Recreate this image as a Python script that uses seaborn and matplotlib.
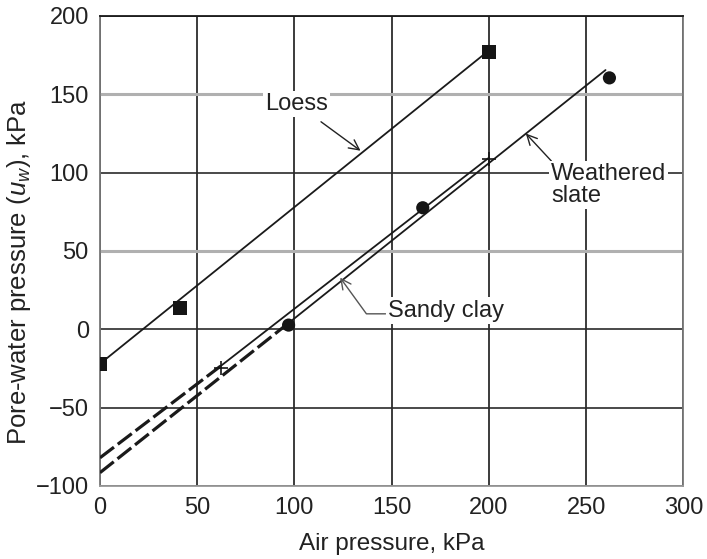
import pandas as pd
import numpy as np
import matplotlib.pyplot as plt
import seaborn as sns

sns.set_style('white')
plt.rcParams['font.family'] = ['Liberation Sans', 'DejaVu Sans']
plt.rcParams['mathtext.fontset'] = 'custom'
plt.rcParams['mathtext.rm'] = 'Liberation Sans'
plt.rcParams['mathtext.it'] = 'Liberation Sans:italic'

# measured points
loess_x = [0, 41, 200]
loess_y = [-22, 13.5, 177]
sandy_x = [62, 200]
sandy_y = [-24.5, 108.5]
slate_x = [97, 166, 262]
slate_y = [2.7, 77.6, 160.5]

# fitted lines (solid part + dashed extrapolation)
loess_fit_x = [0, 200]
loess_fit_y = [-22, 178]
sandy_fit_x = [62, 200]
sandy_fit_y = [-23.5, 109.5]
sandy_ext_x = [0, 62]
sandy_ext_y = [-82, -23.5]
slate_fit_x = [97, 260]
slate_fit_y = [4, 165.5]
slate_ext_x = [0, 97]
slate_ext_y = [-91.5, 4]

x_ticks = [0, 50, 100, 150, 200, 250, 300]
y_ticks = [-100, -50, 0, 50, 100, 150, 200]

fig = plt.figure(figsize=(7.07, 5.59), dpi=100)
ax = fig.add_axes([0.1414, 0.1306, 0.8251, 0.8408])

# lines
for xs, ys in [(loess_fit_x, loess_fit_y), (sandy_fit_x, sandy_fit_y), (slate_fit_x, slate_fit_y)]:
    sns.lineplot(x=xs, y=ys, ax=ax, color='#1a1a1a', lw=1.3, zorder=4)
for xs, ys in [(sandy_ext_x, sandy_ext_y), (slate_ext_x, slate_ext_y)]:
    sns.lineplot(x=xs, y=ys, ax=ax, color='#1a1a1a', lw=2.3, zorder=4,
                 dashes=False).lines[-1].set_dashes((5.5, 1.5))

# markers
sns.scatterplot(x=loess_x, y=loess_y, ax=ax, marker='s', s=105, color='#151515',
                edgecolor='none', zorder=5)
sns.scatterplot(x=slate_x, y=slate_y, ax=ax, marker='o', s=90, color='#151515',
                edgecolor='none', zorder=5)
sns.scatterplot(x=sandy_x, y=sandy_y, ax=ax, marker='+', s=90, color='#151515',
                linewidth=1.2, zorder=6)

ax.set_xlim(0, 300)
ax.set_ylim(-100, 200)
ax.set_xticks(x_ticks)
ax.set_yticks(y_ticks)
ax.tick_params(length=0, labelsize=17, pad=8, colors='#222222')

# grid: verticals black, horizontals mixed grey/black
ax.grid(True, zorder=1)
ax.set_axisbelow(True)
for gl in ax.xaxis.get_gridlines():
    gl.set_color('#1a1a1a')
    gl.set_linewidth(1.2)
for val, gl in zip(y_ticks, ax.yaxis.get_gridlines()):
    if val in (50, 150):
        gl.set_color('#b0b0b0')
        gl.set_linewidth(2.2)
    else:
        gl.set_color('#2a2a2a')
        gl.set_linewidth(1.2)

for side, c in [('top', '#1a1a1a'), ('left', '#777777'), ('bottom', '#999999'), ('right', '#777777')]:
    ax.spines[side].set_color(c)
    ax.spines[side].set_linewidth(1.3)

ax.set_xlabel('Air pressure, kPa', fontsize=17.5, color='#222222', labelpad=10)
ax.set_ylabel('Pore-water pressure ($u_w$), kPa', fontsize=18.5, color='#222222')
ax.yaxis.set_label_coords(-0.115, 0.455)

# annotations
box = dict(facecolor='white', edgecolor='none', pad=1.5)
ax.annotate('Loess', xy=(134, 114), xytext=(101, 144), fontsize=17, color='#222222',
            ha='center', va='center', bbox=box, zorder=6,
            arrowprops=dict(arrowstyle='->', color='#222222', lw=1.0,
                            shrinkA=6, shrinkB=0, mutation_scale=18))
ax.annotate('Weathered\nslate', xy=(219, 125), xytext=(232, 92), fontsize=17,
            color='#222222', ha='left', va='center', bbox=box, zorder=6,
            linespacing=1.0,
            arrowprops=dict(arrowstyle='->', color='#222222', lw=1.0,
                            shrinkA=0, shrinkB=0, mutation_scale=18,
                            relpos=(0.02, 1.0)))
ax.annotate('Sandy clay', xy=(123.5, 33), xytext=(148, 12), fontsize=17,
            color='#222222', ha='left', va='center', bbox=box, zorder=6,
            arrowprops=dict(arrowstyle='->', color='#555555', lw=1.0,
                            shrinkA=0, shrinkB=0, mutation_scale=18,
                            relpos=(0.0, 0.35),
                            connectionstyle='angle,angleA=0,angleB=126,rad=0'))

fig.savefig('out.png', dpi=100)
